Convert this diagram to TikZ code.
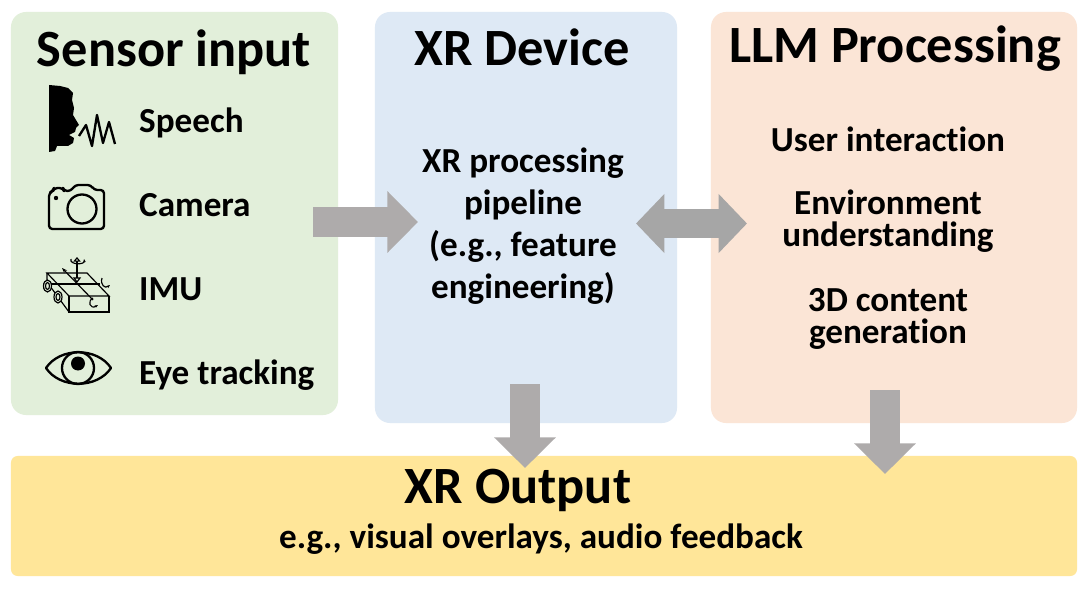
\documentclass[tikz,border=0pt]{standalone}
\usepackage{fontspec}
\setmainfont[Ligatures=NoCommon]{Carlito}
\usetikzlibrary{arrows.meta}
\definecolor{sensorgreen}{HTML}{E2EFDA}
\definecolor{deviceblue}{HTML}{DEE9F5}
\definecolor{llmorange}{HTML}{FBE5D6}
\definecolor{outputyellow}{HTML}{FFE699}
\definecolor{arrowgray}{HTML}{AEABAB}
\definecolor{doublegray}{HTML}{A6A6A6}
\tikzset{
  panel/.style={rounded corners=0.45cm, inner sep=0pt},
  title/.style={font=\fontsize{44.7}{48}\selectfont\bfseries},
  label/.style={font=\fontsize{30}{33}\selectfont\bfseries, align=center},
  sensorlabel/.style={label, anchor=west, inner xsep=0pt},
  blockarrow/.style={line width=0.9cm, arrowgray, -{Triangle[length=0.92cm, width=1.8cm]}},
  doublearrow/.style={line width=0.87cm, doublegray, {Triangle[length=0.85cm, width=1.72cm]}-{Triangle[length=0.85cm, width=1.72cm]}},
  icon/.style={line width=0.07cm, line join=round},
}
\begin{document}
\begin{tikzpicture}[x=0.03cm, y=-0.03cm]
    \useasboundingbox (0,0) rectangle (1083,593);
    \fill[white] (0,0) rectangle (1083,593);
    % panels
    \node[panel, fill=sensorgreen, minimum width=9.81cm, minimum height=12.09cm] (sensor) at (174.5,213.5) {};
    \node[panel, fill=deviceblue, minimum width=9.06cm, minimum height=12.33cm] (device) at (526,217.5) {};
    \node[panel, fill=llmorange, minimum width=10.98cm, minimum height=12.33cm] (llm) at (894,217.5) {};
    \node[panel, rounded corners=0.2cm, fill=outputyellow, minimum width=31.98cm, minimum height=3.6cm] (output) at (544,516) {};
    % titles
    \node[title] (sensortitle) at (174,52) {Sensor input};
    \node[title] (devicetitle) at (522,47.5) {XR Device};
    \node[title] (llmtitle) at (895,49) {LLM Processing};
    \node[title] (outputtitle) at (518,490) {XR Output};
    % sensor list
    \node[sensorlabel] (speech) at (139,123) {Speech};
    \node[sensorlabel] (camera) at (139,205) {Camera};
    \node[sensorlabel] (imu) at (139,289) {IMU};
    \node[sensorlabel] (eye) at (139,375) {Eye tracking};
    % middle and right text
    \node[label, font=\fontsize{30}{35.8}\selectfont\bfseries] (pipeline) at (523,226) {XR processing\\pipeline\\(e.g., feature\\engineering)};
    \node[label] (interaction) at (888,139) {User interaction};
    \node[label, font=\fontsize{30}{27.3}\selectfont\bfseries] (environment) at (888,221) {Environment\\understanding};
    \node[label, font=\fontsize{30}{27.3}\selectfont\bfseries] (content) at (888,319) {3D content\\generation};
    \node[label] (feedback) at (541,539) {e.g., visual overlays, audio feedback};
    % block arrows
    \coordinate (sensorout) at (313,222);
    \coordinate (devicein) at (418,222);
    \coordinate (deviceright) at (636,223.5);
    \coordinate (llmleft) at (747,223.5);
    \coordinate (devicedown) at (525,384);
    \coordinate (outputleft) at (525,468);
    \coordinate (llmdown) at (885,390);
    \coordinate (outputright) at (885,474);
    \draw[blockarrow] (sensorout) -- (devicein);
    \draw[doublearrow] (deviceright) -- (llmleft);
    \draw[blockarrow] (devicedown) -- (outputleft);
    \draw[blockarrow] (llmdown) -- (outputright);
    % speech icon
    \fill (49,85) -- (60,86) -- (68,88) -- (73,93) -- (72,100) -- (74,108) -- (73,115) -- (79,125) -- (76,128)
        -- (75,132) -- (69,135) -- (74,138) -- (73,143) -- (68,146) -- (57,146) -- (55,151) -- (49,152) -- cycle;
    \draw[icon] (79,136) -- (86,125) -- (92,146) -- (97,115) -- (103,143) -- (109,122) -- (115,144);
    % camera icon
    \draw[icon, rounded corners=0.1cm] (49,200) -- (49,229) -- (104,229) -- (104,190) -- (94,190)
        -- (91,185) -- (75,185) -- (71,191) -- (64,191) -- (63,188) -- (54,188) -- (53,191) -- (49,193) -- cycle;
    \draw[icon] (82,209) circle[radius=14.5];
    \fill (56,198) circle[radius=2.2];
    % imu icon
    \begin{scope}[line width=0.035cm]
        \draw (47,273) -- (87,273) -- (109,296) -- (69,296) -- cycle;
        \draw (69,296) -- (69,312) -- (109,312) -- (109,296);
        \draw (47,273) -- (47,282) -- (69,312);
        \draw (47,284) -- (100,284);
        \draw[-{Stealth[length=0.16cm]}] (93,300) -- (62,268);
        \draw[-{Triangle[open, length=0.14cm]}] (77,278) -- (77,257);
        \draw[fill=sensorgreen] (74,278) -- (80,278) -- (77,282) -- cycle;
        \draw[-{Stealth[length=0.1cm]}] (71,259) .. controls (69,265) and (85,265) .. (84,259);
        \draw[-{Stealth[length=0.1cm]}] (102,278) .. controls (100,285) and (105,289) .. (110,285);
        \draw[-{Stealth[length=0.1cm]}] (93,298) .. controls (87,301) and (90,310) .. (98,305);
        \draw[fill=sensorgreen] (47.5,286) ellipse[x radius=4, y radius=6];
        \draw (47.5,286) ellipse[x radius=2, y radius=3.5];
        \draw[fill=sensorgreen] (58,297) ellipse[x radius=4, y radius=6];
        \draw (58,297) ellipse[x radius=2, y radius=3.5];
    \end{scope}
    % eye icon
    \draw[icon] (46,368) .. controls (60,347) and (97,347) .. (111,368) .. controls (97,389) and (60,389) .. (46,368) -- cycle;
    \draw[icon] (78,368) circle[radius=16];
    \fill (78,363.5) circle[radius=7];
\end{tikzpicture}
\end{document}
